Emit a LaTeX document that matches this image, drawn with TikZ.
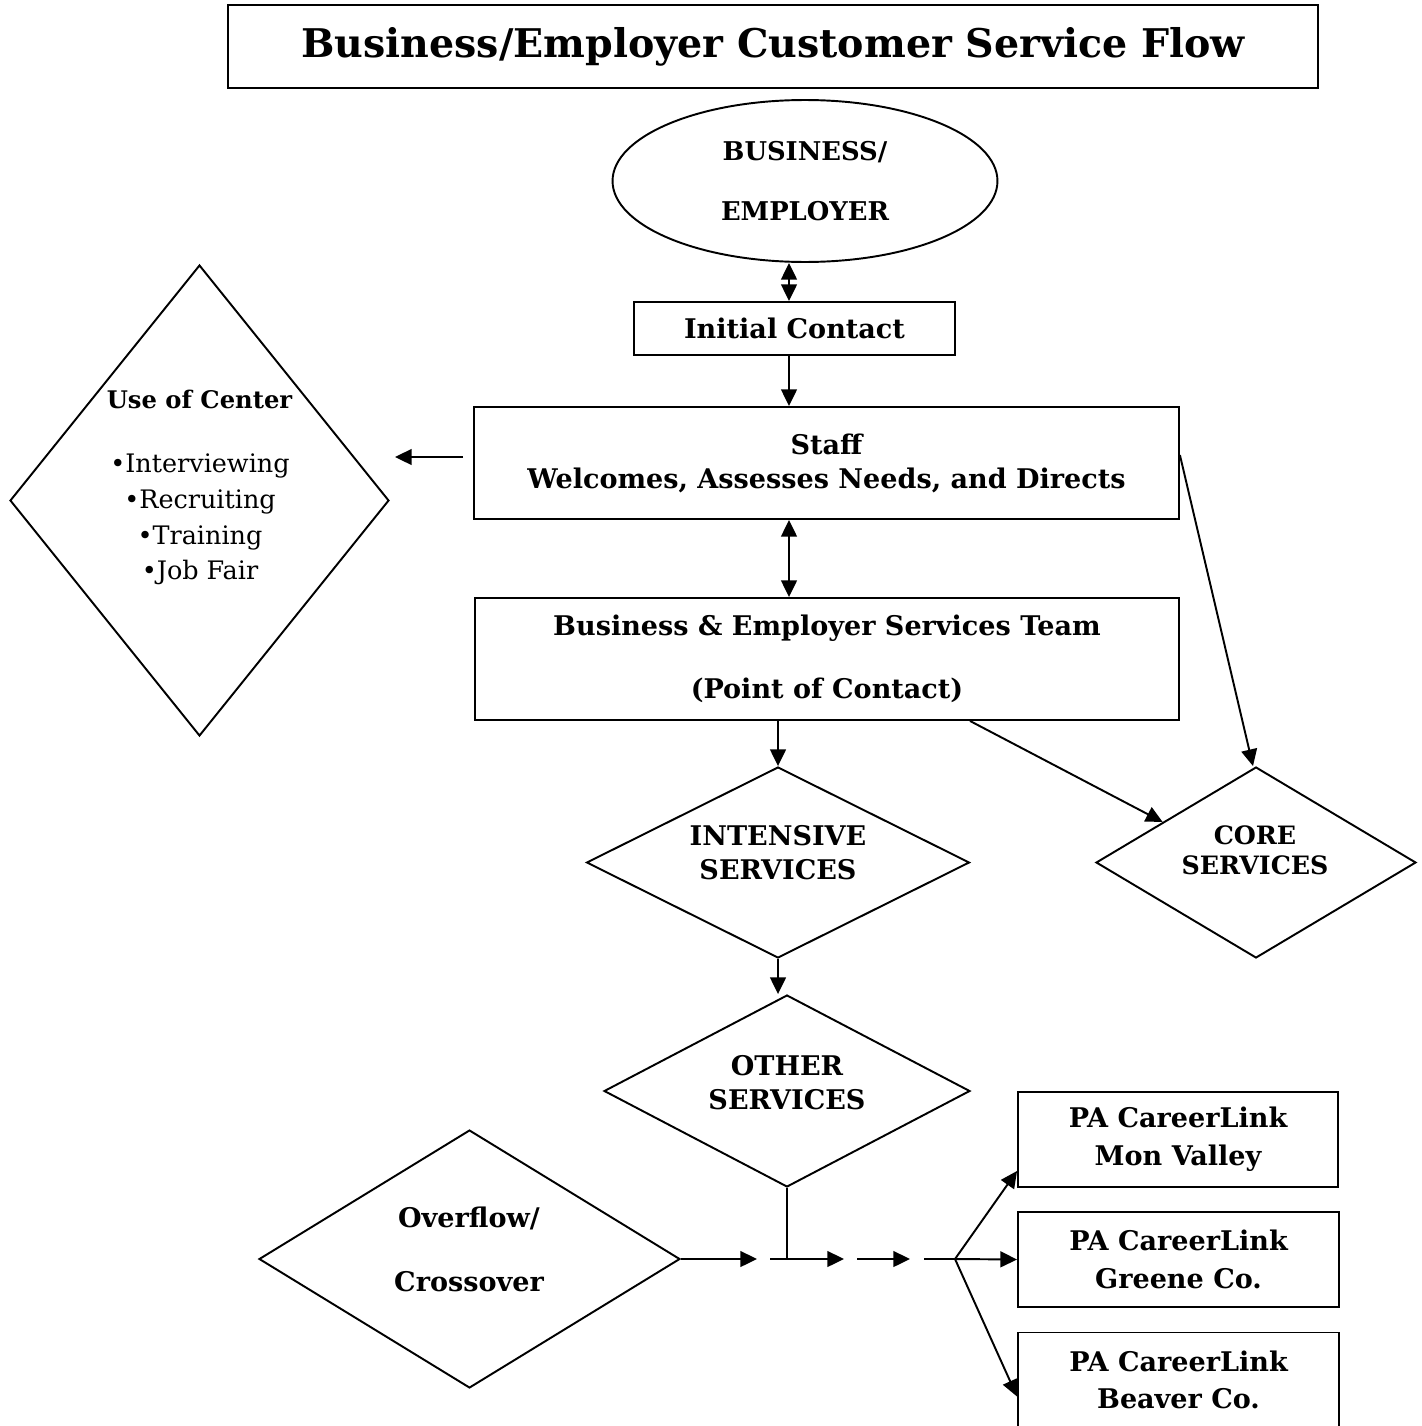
\documentclass[tikz,border=0pt]{standalone}
\usepackage{fontspec}
\setmainfont{DejaVu Serif}
\usetikzlibrary{shapes.geometric,arrows.meta,calc}
\tikzset{
 ln/.style={line width=1.1pt},
 tip/.tip={Triangle[length=9.5pt,width=9pt]},
 arr/.style={ln,-tip},
 darr/.style={ln,tip-tip},
 box/.style={draw,ln,rectangle,inner sep=0pt,align=center},
 dia/.style={draw,ln,diamond,inner sep=0pt},
 txt/.style={align=center,font=\bfseries\fontsize{15.4}{19.3}\selectfont},
}
\begin{document}
\begin{tikzpicture}[x=0.02cm,y=-0.02cm]
\useasboundingbox (0,0) rectangle (1421,1426);
% title
\node[box,minimum width=21.8cm,minimum height=1.66cm,font=\bfseries\fontsize{22.5}{28}\selectfont] (title) at (773,46.5) {Business/Employer Customer Service Flow};
% ellipse
\node[draw,ln,ellipse,inner sep=0pt,minimum width=7.7cm,minimum height=3.24cm,align=center,font=\bfseries\fontsize{14.7}{34.6}\selectfont] (ell) at (805,181) {BUSINESS/\\EMPLOYER};
% boxes
\node[box,minimum width=6.42cm,minimum height=1.06cm,txt] (ic) at (794.5,328.5) {Initial Contact};
\node[box,minimum width=14.1cm,minimum height=2.24cm,txt] (staff) at (826.5,463) {Staff\\Welcomes, Assesses Needs, and Directs};
\node[box,minimum width=14.08cm,minimum height=2.44cm,txt,font=\bfseries\fontsize{15.4}{36}\selectfont] (best) at (827,659) {Business \& Employer Services Team\\(Point of Contact)};
\node[box,minimum width=6.4cm,minimum height=1.9cm,txt,font=\bfseries\fontsize{15.4}{21.5}\selectfont] (mon) at (1178,1139.5) {PA CareerLink\\Mon Valley};
\node[box,minimum width=6.42cm,minimum height=1.9cm,txt,font=\bfseries\fontsize{15.4}{21.5}\selectfont] (greene) at (1178.5,1259.5) {PA CareerLink\\Greene Co.};
\node[box,minimum width=6.42cm,minimum height=1.9cm,txt,font=\bfseries\fontsize{15.4}{21.5}\selectfont] (beaver) at (1178.5,1380) {PA CareerLink\\Beaver Co.};
% diamonds
\node[dia,minimum width=7.58cm,minimum height=9.42cm] (use) at (199.5,500.5) {};
\node[txt,font=\bfseries\fontsize{13.8}{19}\selectfont] (usettl) at (199.5,399) {Use of Center};
\node[align=center,font=\fontsize{14.5}{20.4}\selectfont] (uselist) at (200,519.5) {•Interviewing\\•Recruiting\\•Training\\•Job Fair};
\node[dia,minimum width=7.66cm,minimum height=3.82cm] (int) at (778,862.5) {};
\node[txt] (inttxt) at (778,853) {INTENSIVE\\SERVICES};
\node[dia,minimum width=6.4cm,minimum height=3.82cm] (core) at (1256,862.5) {};
\node[txt,font=\bfseries\fontsize{14.4}{17}\selectfont] (coretxt) at (1255,850) {CORE\\SERVICES};
\node[dia,minimum width=7.32cm,minimum height=3.84cm] (oth) at (787,1091) {};
\node[txt] (othtxt) at (787,1082.5) {OTHER\\SERVICES};
\node[dia,minimum width=8.42cm,minimum height=5.16cm] (ov) at (469.5,1259) {};
\node[txt,font=\bfseries\fontsize{15.4}{36.8}\selectfont] (ovtxt) at (469,1249.5) {Overflow/\\Crossover};
% coordinates
\coordinate (c1) at (789,0);
\coordinate (c2) at (778,0);
\coordinate (la1) at (463,457);
\coordinate (la2) at (395,457);
\coordinate (s1) at (757,1259);
\coordinate (s2a) at (770,1259);
\coordinate (s2b) at (844,1259);
\coordinate (s3a) at (857,1259);
\coordinate (s3b) at (910,1259);
\coordinate (s4a) at (924,1259);
\coordinate (br) at (955,1259);
% connectors
\draw[darr] (c1 |- ell.south) -- (c1 |- ic.north);
\draw[arr] (c1 |- ic.south) -- (c1 |- staff.north);
\draw[arr] (la1) -- (la2);
\draw[darr] (c1 |- staff.south) -- (c1 |- best.north);
\draw[arr] (c2 |- best.south) -- (int.north);
\draw[arr] ($(best.south)+(143,0)$) -- ($(core.west)!0.42!(core.north)$);
\draw[arr] ($(staff.east)+(0,-8)$) -- ($(core.north)+(-3,0)$);
\draw[arr] (c2 |- int.south) -- (c2 |- oth.north);
\draw[ln] (oth.south) -- (oth.south |- ov.east);
\draw[arr] (ov.east) -- (s1);
\draw[arr] (s2a) -- (s2b);
\draw[arr] (s3a) -- (s3b);
\draw[ln] (s4a) -- (br);
\draw[arr] (br) -- ($(mon.south west)+(0,-17)$);
\draw[arr] (br) -- (greene.west);
\draw[arr] (br) -- ($(beaver.north west)+(0,65)$);
\end{tikzpicture}
\end{document}
